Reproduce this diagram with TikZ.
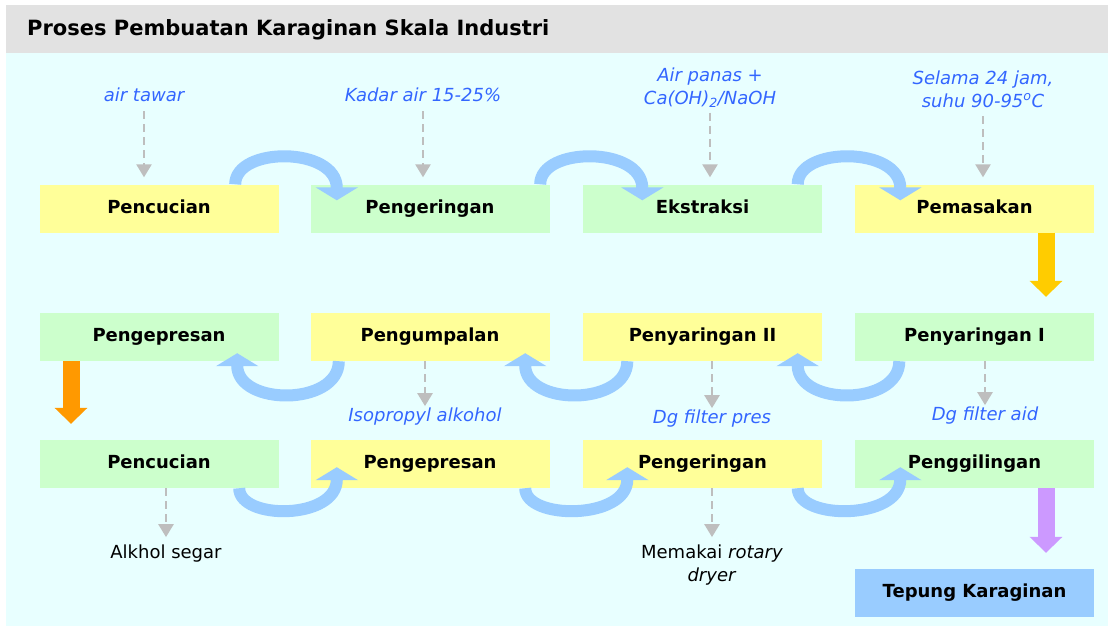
\documentclass[tikz,border=0pt]{standalone}
\usepackage{fontspec}
\setmainfont{DejaVu Sans}
\usetikzlibrary{arrows.meta}
\definecolor{boxyellow}{RGB}{255,255,153}
\definecolor{boxgreen}{RGB}{204,255,204}
\definecolor{boxblue}{RGB}{153,204,255}
\definecolor{arcblue}{RGB}{153,204,255}
\definecolor{arrgold}{RGB}{255,204,0}
\definecolor{arrorange}{RGB}{255,153,0}
\definecolor{arrviolet}{RGB}{204,153,255}
\definecolor{notecol}{RGB}{51,102,255}
\definecolor{dashgray}{RGB}{190,190,190}
\definecolor{bandgray}{RGB}{226,226,226}
\definecolor{bgcyan}{RGB}{232,255,255}
\begin{document}
\begin{tikzpicture}[x={(1pt,0)},y={(0,-1pt)},line join=round,
    stage/.style={minimum width=239pt,minimum height=48pt,inner sep=0pt,text height=13pt,text depth=4pt,font=\fontsize{18}{22}\selectfont\bfseries},
    note/.style={inner sep=0pt,align=center,anchor=base,text=notecol,font=\fontsize{18}{23}\selectfont\itshape},
    remark/.style={inner sep=0pt,align=center,anchor=base,font=\fontsize{18}{23}\selectfont},
    turn/.style={draw=arcblue,line width=12pt,-{Triangle[width=42pt,length=13pt]}},
    feed/.style={draw=dashgray,line width=2.5pt,dash pattern=on 8pt off 5pt,-{Triangle[width=15pt,length=13pt]}},
    drop/.style={line width=17pt,-{Triangle[width=32pt,length=16pt]}}]
    \useasboundingbox (0,0) rectangle (1110,626);
    \fill[bandgray] (6,5) rectangle (1108,53);
    \fill[bgcyan] (6,53) rectangle (1108,626);
    \node[anchor=base west,inner sep=0pt,font=\fontsize{21}{25}\selectfont\bfseries] (title) at (27,36) {Proses Pembuatan Karaginan Skala Industri};

    % baris pertama
    \begin{scope}[shift={(0,208.5)}]
      \node[stage,fill=boxyellow] (p1) at (159,0) {Pencucian};
      \node[stage,fill=boxgreen] (p2) at (430,0) {Pengeringan};
      \node[stage,fill=boxgreen] (p3) at (702.5,0) {Ekstraksi};
      \node[stage,fill=boxyellow] (p4) at (974.5,0) {Pemasakan};
      \node[note] (w1) at (144,-107.5) {air tawar};
      \node[note] (w2) at (423,-107.5) {Kadar air 15-25\%};
      \node[note] (w3) at (710,-104.5) {Air panas +\\Ca(OH)\textsubscript{2}/NaOH};
      \node[note] (w4) at (983,-101.5) {Selama 24 jam,\\suhu 90-95\textsuperscript{o}C};
    \end{scope}

    % baris kedua
    \begin{scope}[shift={(0,337)}]
      \node[stage,fill=boxgreen] (q1) at (159,0) {Pengepresan};
      \node[stage,fill=boxyellow] (q2) at (430,0) {Pengumpalan};
      \node[stage,fill=boxyellow] (q3) at (702.5,0) {Penyaringan II};
      \node[stage,fill=boxgreen] (q4) at (974.5,0) {Penyaringan I};
      \node[note] (w5) at (425,84) {Isopropyl alkohol};
      \node[note] (w6) at (712,86) {Dg filter pres};
      \node[note] (w7) at (985,83) {Dg filter aid};
    \end{scope}

    % baris ketiga
    \begin{scope}[shift={(0,464)}]
      \node[stage,fill=boxgreen] (r1) at (159,0) {Pencucian};
      \node[stage,fill=boxyellow] (r2) at (430,0) {Pengepresan};
      \node[stage,fill=boxyellow] (r3) at (702.5,0) {Pengeringan};
      \node[stage,fill=boxgreen] (r4) at (974.5,0) {Penggilingan};
      \node[remark] (w8) at (166,94) {Alkhol segar};
      \node[remark] (w9) at (712,117) {Memakai \textit{rotary}\\\textit{dryer}};
    \end{scope}

    \node[stage,fill=boxblue] (tk) at (974.5,593) {Tepung Karaginan};

    % panah lengkung
    \draw[turn] ([xshift=-43.5pt]p1.north east) .. controls +(0,-38) and +(0,-54) .. ([xshift=26.5pt,yshift=-16pt]p2.north west);
    \draw[turn] ([xshift=-9.5pt]p2.north east) .. controls +(0,-38) and +(0,-54) .. ([xshift=59.5pt,yshift=-16pt]p3.north west);
    \draw[turn] ([xshift=-24.5pt]p3.north east) .. controls +(0,-38) and +(0,-54) .. ([xshift=45.5pt,yshift=-16pt]p4.north west);
    \draw[turn] ([xshift=28.5pt]q2.south west) .. controls +(0,45) and +(0,53) .. ([xshift=-41.5pt,yshift=8pt]q1.south east);
    \draw[turn] ([xshift=44.5pt]q3.south west) .. controls +(0,45) and +(0,53) .. ([xshift=-24.5pt,yshift=8pt]q2.south east);
    \draw[turn] ([xshift=44.5pt]q4.south west) .. controls +(0,45) and +(0,53) .. ([xshift=-24.5pt,yshift=8pt]q3.south east);
    \draw[turn] ([xshift=-39.5pt]r1.south east) .. controls +(0,32) and +(0,53) .. ([xshift=26.5pt,yshift=21pt]r2.south west);
    \draw[turn] ([xshift=-24.5pt]r2.south east) .. controls +(0,32) and +(0,53) .. ([xshift=44.5pt,yshift=21pt]r3.south west);
    \draw[turn] ([xshift=-24.5pt]r3.south east) .. controls +(0,32) and +(0,53) .. ([xshift=45.5pt,yshift=21pt]r4.south west);

    % panah lurus
    \draw[drop,draw=arrgold] ([xshift=71.5pt]p4.south) -- ([xshift=71.5pt,yshift=16pt]q4.north);
    \draw[drop,draw=arrorange] ([xshift=-88pt]q1.south) -- ([xshift=-88pt,yshift=16pt]r1.north);
    \draw[drop,draw=arrviolet] ([xshift=71.5pt]r4.south) -- ([xshift=71.5pt,yshift=16pt]tk.north);

    % bahan dan keterangan
    \draw[feed,shorten <=10pt,shorten >=7pt] (w1) -- (w1 |- p1.north);
    \draw[feed,shorten <=10pt,shorten >=7pt] (w2) -- (w2 |- p2.north);
    \draw[feed,shorten <=5pt,shorten >=7pt] (w3) -- (w3 |- p3.north);
    \draw[feed,shorten <=9pt,shorten >=7pt] (w4) -- (w4 |- p4.north);
    \draw[feed,shorten >=1pt] (q2.south -| w5) -- (w5);
    \draw[feed,shorten >=1pt] (q3.south -| w6) -- (w6);
    \draw[feed,shorten >=1pt] (q4.south -| w7) -- (w7);
    \draw[feed,shorten >=7pt] (r1.south -| w8) -- (w8);
    \draw[feed,shorten >=7pt] (r3.south -| w9) -- (w9);
  \end{tikzpicture}
\end{document}
